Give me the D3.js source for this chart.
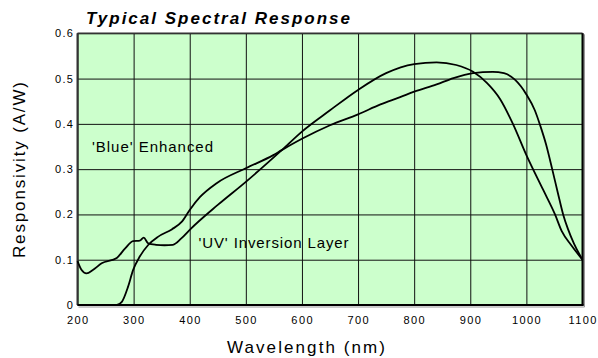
<!DOCTYPE html>
<html>
<head>
<meta charset="utf-8">
<script src="https://cdn.jsdelivr.net/npm/d3@7"></script>
<style>
  body { margin: 0; background: #fff; }
  text { font-family: "Liberation Sans", Arial, sans-serif; fill: #000; }
</style>
</head>
<body>
<svg id="chart"></svg>
<script>
// 'Blue' Enhanced curve (wavelength nm, responsivity A/W)
let blueNm = [200, 207, 216, 228, 243, 270, 285, 299, 311, 318, 326, 340, 355, 370, 385, 400, 450, 500, 564, 600, 650, 700, 750, 800, 840, 875, 905, 930, 953, 976, 1000, 1030, 1051, 1063, 1080, 1100]
let blueVal = [0.097, 0.078, 0.070, 0.078, 0.092, 0.104, 0.125, 0.141, 0.142, 0.149, 0.136, 0.133, 0.132, 0.133, 0.147, 0.166, 0.221, 0.272, 0.342, 0.383, 0.430, 0.475, 0.512, 0.532, 0.536, 0.530, 0.515, 0.490, 0.455, 0.400, 0.331, 0.254, 0.200, 0.163, 0.132, 0.100]

// 'UV' Inversion Layer curve
let uvNm = [219, 270, 279, 290, 299, 311, 326, 344, 368, 386, 400, 418, 448, 500, 549, 564, 600, 650, 700, 740, 775, 800, 840, 870, 905, 940, 960, 980, 1000, 1015, 1025, 1035, 1046, 1056, 1065.5, 1074, 1085, 1100]
let uvVal = [0, 0, 0.007, 0.040, 0.077, 0.107, 0.1325, 0.151, 0.167, 0.184, 0.210, 0.238, 0.269, 0.302, 0.331, 0.342, 0.367, 0.397, 0.421, 0.443, 0.459, 0.471, 0.487, 0.501, 0.512, 0.515, 0.512, 0.497, 0.465, 0.430, 0.395, 0.355, 0.300, 0.248, 0.200, 0.168, 0.135, 0.100]

let xTicks = [200, 300, 400, 500, 600, 700, 800, 900, 1000, 1100]
let yTicks = [0, 0.1, 0.2, 0.3, 0.4, 0.5, 0.6]
let yTickLabels = ['0', '0.1', '0.2', '0.3', '0.4', '0.5', '0.6']

let W = 598, H = 358
let plot = { left: 77.5, right: 582.5, top: 33.3, bottom: 305 }

let svg = d3.select('#chart').attr('width', W).attr('height', H)

let x = d3.scaleLinear().domain([200, 1100]).range([plot.left, plot.right])
let y = d3.scaleLinear().domain([0, 0.6]).range([plot.bottom, plot.top])

svg.append('rect')
    .attr('x', plot.left).attr('y', plot.top)
    .attr('width', plot.right - plot.left)
    .attr('height', plot.bottom - plot.top)
    .attr('fill', '#ccffcc')

// grid
svg.append('g')
    .attr('transform', 'translate(0,' + plot.bottom + ')')
    .call(d3.axisBottom(x).tickValues(xTicks).tickSize(-(plot.bottom - plot.top)).tickFormat(''))
    .call(g => g.select('.domain').remove())
    .selectAll('line').attr('stroke', '#111').attr('stroke-width', 1)

svg.append('g')
    .attr('transform', 'translate(' + plot.left + ',0)')
    .call(d3.axisLeft(y).tickValues(yTicks).tickSize(-(plot.right - plot.left)).tickFormat(''))
    .call(g => g.select('.domain').remove())
    .selectAll('line').attr('stroke', '#111').attr('stroke-width', 1)

// frame
svg.append('line').attr('x1', plot.left).attr('x2', plot.left).attr('y1', plot.top).attr('y2', plot.bottom)
    .attr('stroke', '#333').attr('stroke-width', 2)
svg.append('line').attr('x1', plot.left).attr('x2', plot.right).attr('y1', plot.top).attr('y2', plot.top)
    .attr('stroke', '#333').attr('stroke-width', 1.5)
svg.append('line').attr('x1', plot.right).attr('x2', plot.right).attr('y1', plot.top).attr('y2', plot.bottom + 1)
    .attr('stroke', '#000').attr('stroke-width', 2)
svg.append('line').attr('x1', plot.left).attr('x2', plot.right + 1).attr('y1', plot.bottom).attr('y2', plot.bottom)
    .attr('stroke', '#000').attr('stroke-width', 2)
svg.append('line').attr('x1', plot.right + 2).attr('x2', plot.right + 2).attr('y1', plot.top + 1).attr('y2', plot.bottom + 2)
    .attr('stroke', '#999').attr('stroke-width', 1)
svg.append('line').attr('x1', plot.left + 1).attr('x2', plot.right + 2).attr('y1', plot.bottom + 2).attr('y2', plot.bottom + 2)
    .attr('stroke', '#999').attr('stroke-width', 1)

// curves
let line = d3.line()
    .x(d => x(d[0]))
    .y(d => y(d[1]))
    .curve(d3.curveMonotoneX)

let series = [
    d3.zip(blueNm, blueVal),
    d3.zip(uvNm, uvVal)
]

svg.append('g').selectAll('path.curve')
    .data(series)
    .enter().append('path')
    .attr('class', 'curve')
    .attr('d', line)
    .attr('fill', 'none')
    .attr('stroke', '#000')
    .attr('stroke-width', 1.8)
    .attr('stroke-linejoin', 'round')

// tick labels
svg.append('g').selectAll('text')
    .data(xTicks)
    .enter().append('text')
    .attr('x', d => x(d) + 0.7)
    .attr('y', 324)
    .attr('text-anchor', 'middle')
    .attr('font-size', 11)
    .attr('letter-spacing', 1.4)
    .text(d => d)

svg.append('g').selectAll('text')
    .data(yTicks)
    .enter().append('text')
    .attr('x', 74)
    .attr('y', d => y(d) + 4)
    .attr('text-anchor', 'end')
    .attr('font-size', 11)
    .attr('letter-spacing', 1.2)
    .text((d, i) => yTickLabels[i])

// titles
svg.append('text')
    .attr('x', 86).attr('y', 24)
    .attr('font-size', 17)
    .attr('font-weight', 'bold')
    .attr('font-style', 'italic')
    .attr('textLength', 264)
    .attr('lengthAdjust', 'spacing')
    .text('Typical Spectral Response')

svg.append('text')
    .attr('x', 227).attr('y', 353)
    .attr('font-size', 17)
    .attr('textLength', 158)
    .attr('lengthAdjust', 'spacing')
    .text('Wavelength (nm)')

svg.append('text')
    .attr('transform', 'translate(24.5,258) rotate(-90)')
    .attr('font-size', 17)
    .attr('textLength', 176)
    .attr('lengthAdjust', 'spacing')
    .text('Responsivity (A/W)')

// curve labels
svg.append('text')
    .attr('x', 92).attr('y', 152.3)
    .attr('font-size', 15)
    .attr('textLength', 121)
    .attr('lengthAdjust', 'spacing')
    .text("'Blue' Enhanced")

svg.append('text')
    .attr('x', 198.5).attr('y', 248.3)
    .attr('font-size', 15)
    .attr('textLength', 150)
    .attr('lengthAdjust', 'spacing')
    .text("'UV' Inversion Layer")
</script>
</body>
</html>
